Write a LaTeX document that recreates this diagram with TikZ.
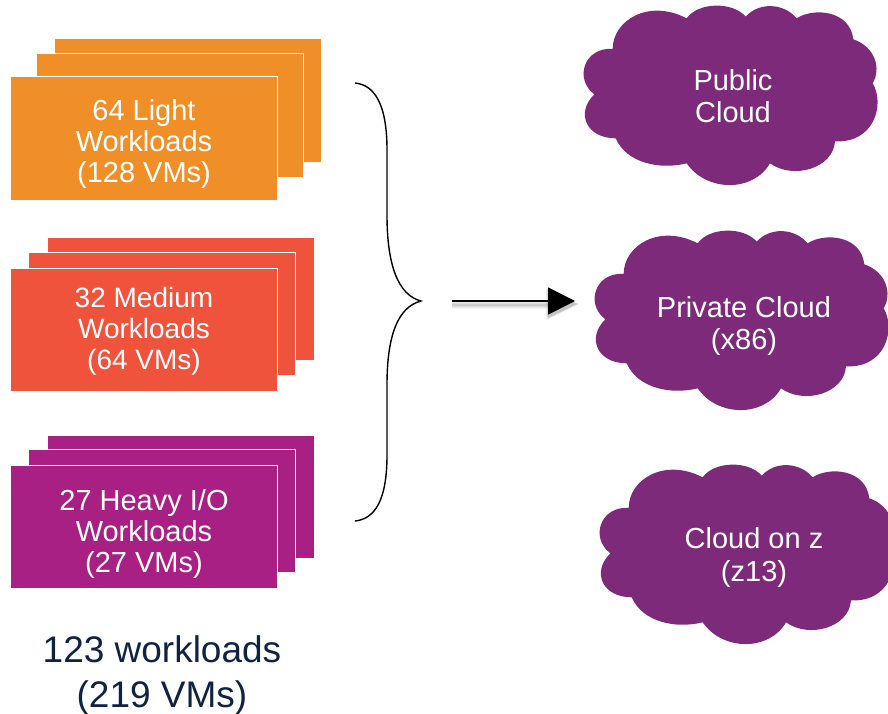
\documentclass[tikz,border=0pt]{standalone}
\usepackage{fontspec}
\setmainfont{Liberation Sans}
\usetikzlibrary{arrows.meta}
\definecolor{orangeC}{HTML}{F08E28}
\definecolor{redC}{HTML}{EF533B}
\definecolor{magC}{HTML}{A82084}
\definecolor{cloudC}{HTML}{7E2A7B}
\definecolor{navyC}{HTML}{0F2340}
\tikzset{
  card/.style={draw=white,line width=0.8pt,anchor=north west,minimum width=267pt,minimum height=123.5pt,inner sep=0pt},
  cardtext/.style={text=white,font=\fontsize{29}{31}\selectfont,align=center,inner sep=0pt},
  cloudtext/.style={text=white,font=\fontsize{29}{32.5}\selectfont,align=center,inner sep=0pt},
  cloudshape/.pic={
    \fill[cloudC,x=0.3333pt,y=-0.3333pt]
      (128,147) .. controls (128,62) and (235,-5) .. (350,55)
      .. controls (385,5) and (490,5) .. (527,50)
      .. controls (565,7) and (640,7) .. (680,55)
      .. controls (730,22) and (840,30) .. (850,118)
      .. controls (915,140) and (935,205) .. (908,250)
      .. controls (945,310) and (915,430) .. (795,424)
      .. controls (790,505) and (670,540) .. (600,490)
      .. controls (550,577) and (410,577) .. (350,490)
      .. controls (270,510) and (170,490) .. (137,415)
      .. controls (50,415) and (15,340) .. (73,283)
      .. controls (10,235) and (45,140) .. (128,147) -- cycle;
  }
}
\begin{document}
\begin{tikzpicture}[x=1pt,y=-1pt]
\clip (0,0) rectangle (888,714);
% light stack
\node[card,fill=orangeC] (la) at (54,38.5) {};
\node[card,fill=orangeC] (lb) at (35.5,53.5) {};
\node[card,fill=orangeC] (lc) at (10,76.5) {};
\node[cardtext] (lt) at (144,144) {64 Light\\Workloads\\(128 VMs)};
% medium stack
\node[card,fill=redC] (ma) at (47,236.5) {};
\node[card,fill=redC] (mb) at (28,251.5) {};
\node[card,fill=redC] (mc) at (10,267.5) {};
\node[cardtext,font=\fontsize{28}{31}\selectfont] (mt) at (144,331.5) {32 Medium\\Workloads\\(64 VMs)};
% heavy stack
\node[card,fill=magC] (ha) at (47,434.5) {};
\node[card,fill=magC] (hb) at (28,448.5) {};
\node[card,fill=magC] (hc) at (10,464.5) {};
\node[cardtext] (ht) at (144,533.5) {27 Heavy I/O\\Workloads\\(27 VMs)};
% total
\node[text=navyC,font=\fontsize{37}{45}\selectfont,align=center,inner sep=0pt] (total) at (162,675) {123 workloads\\(219 VMs)};
% brace
\coordinate (bt) at (355,83);
\coordinate (bm) at (421,301);
\coordinate (bb) at (355,521);
\draw[black,line width=1.4pt]
  (bt) .. controls (375,85) and (387,105) .. (387,150) -- (387,215)
  .. controls (387,265) and (398,295) .. (bm)
  .. controls (398,307) and (387,335) .. (387,385) -- (387,455)
  .. controls (387,500) and (375,519) .. (bb);
% arrow
\coordinate (as) at (452,301);
\coordinate (ae) at (575,301);
\foreach \w/\o in {7/0.04,5.5/0.05,4/0.06,2.5/0.07}
  \draw[black,opacity=\o,line width=\w pt] ([shift={(0,4)}]as) -- ([shift={(112,4)}]as);
\foreach \s/\o in {2/0.07,1/0.08,0/0.1}
  \fill[black,opacity=\o] (548-\s,290-\s) -- (577+\s,304) -- (548-\s,318+\s) -- cycle;
\draw[black,line width=1.8pt,-{Triangle[length=27pt,width=27pt]}] (as) -- (ae);
% clouds
\pic at (570,0) {cloudshape};
\pic at (581,225) {cloudshape};
\pic at (586,459) {cloudshape};
\node[cloudtext] (c1) at (733,96) {Public\\Cloud};
\node[cloudtext] (c2) at (744,326) {Private Cloud\\(x86)};
\node[cloudtext] (c3) at (754,557.5) {Cloud on z\\(z13)};
\end{tikzpicture}
\end{document}
